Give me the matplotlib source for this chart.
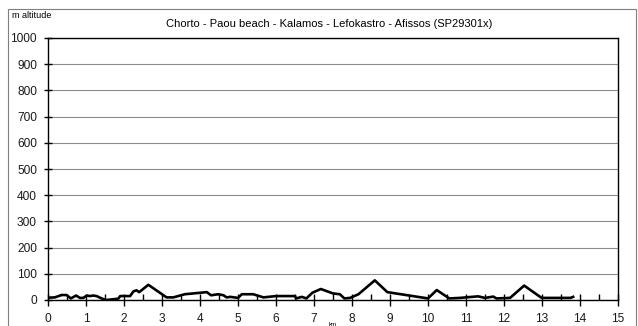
import numpy as np
import matplotlib
matplotlib.use('Agg')
from matplotlib import pyplot as plt
from matplotlib.patches import Rectangle
from matplotlib.ticker import MultipleLocator

# profile: distance (km) and altitude (m)
km = [0.03, 0.18, 0.36, 0.49, 0.6, 0.74, 0.84, 0.93, 1.02, 1.1, 1.19, 1.28,
      1.41, 1.53, 1.85, 1.9, 2.16, 2.25, 2.33, 2.4, 2.64, 3.12, 3.3, 3.6,
      4.18, 4.29, 4.48, 4.62, 4.7, 4.8, 5.0, 5.1, 5.4, 5.67, 6.0, 6.5, 6.53,
      6.68, 6.8, 6.96, 7.18, 7.5, 7.68, 7.8, 7.95, 8.17, 8.6, 8.93, 10.0,
      10.23, 10.56, 10.84, 11.32, 11.5, 11.72, 11.8, 12.16, 12.53, 12.99,
      13.75, 13.82]
alt = [9, 10, 19, 19, 6, 17, 8, 8, 17, 15, 17, 15,
       6, 0, 5, 15, 15, 33, 37, 30, 58, 10, 10, 22,
       30, 18, 22, 18, 10, 12, 8, 22, 22, 10, 15, 15, 6,
       12, 6, 28, 42, 25, 22, 6, 8, 22, 75, 30, 6,
       38, 6, 8, 14, 8, 13, 6, 8, 55, 8,
       8, 12]

title = 'Chorto - Paou beach - Kalamos - Lefokastro - Afissos (SP29301x)'

plt.rcParams['font.family'] = ['Liberation Sans', 'DejaVu Sans']

fig = plt.figure(figsize=(6.38, 3.26), dpi=100)
ax = fig.add_axes([48/638, 1 - 300/326, 570/638, 262/326])

# grey frame round the whole chart
fig.patches.append(Rectangle((8/638, -0.05), 628/638, 1 - 9/326 + 0.05,
                             transform=fig.transFigure, fill=False,
                             edgecolor='#7f7f7f', linewidth=0.8))

ax.plot(km, alt, color='black', linewidth=1.9, zorder=3)

ax.set_xlim(0, 15)
ax.set_ylim(0, 1000)
ax.set_xticks(range(0, 16))
ax.xaxis.set_minor_locator(MultipleLocator(0.5))
ax.set_yticks(range(0, 1001, 100))
ax.grid(axis='y', color='#8c8c8c', linewidth=0.8)
ax.set_axisbelow(True)

for s in ax.spines.values():
    s.set_color('black')
    s.set_linewidth(1.0)

ax.tick_params(axis='x', which='major', direction='inout', length=8, width=1,
               labelsize=8.6, pad=5)
ax.tick_params(axis='x', which='minor', direction='in', length=4, width=1)
ax.tick_params(axis='y', which='major', direction='inout', length=6, width=1,
               labelsize=8.6, pad=5)
for lab in ax.get_xticklabels() + ax.get_yticklabels():
    lab.set_color('#1a1a1a')

fig.text(12/638, 1 - 15/326, 'm altitude', fontsize=6.5, va='center', ha='left')
fig.text(329/638, 1 - 24/326, title, fontsize=8, va='center', ha='center')
fig.text(333/638, 1 - 324/326, 'km', fontsize=4.5, va='center', ha='center')

fig.savefig('out.png', dpi=100)
